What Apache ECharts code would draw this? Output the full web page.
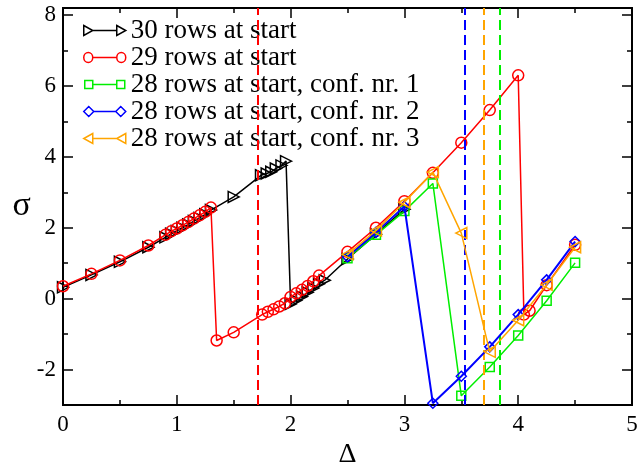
<!doctype html>
<html>
<head>
<meta charset="UTF-8">
<title></title>
<script src="https://cdn.jsdelivr.net/npm/echarts@6/dist/echarts.min.js"></script>
<style>
  html, body { margin: 0; padding: 0; background: #fff; }
  #chart { width: 639px; height: 463px; }
</style>
</head>
<body>
<div id="chart"></div>
<script>
// data
var names = ['30 rows at start', '29 rows at start', '28 rows at start, conf. nr. 1',
             '28 rows at start, conf. nr. 2', '28 rows at start, conf. nr. 3'];
var colors = ['#000000', '#ff0000', '#00ee00', '#0000ff', '#ffa500'];

var blackX = [0, 0.25, 0.5, 0.75, 0.9, 0.95, 1.0, 1.05, 1.1, 1.15, 1.2, 1.25, 1.3, 1.5,
              1.74, 1.79, 1.83, 1.87, 1.92, 1.96, 2.0, 2.05, 2.1, 2.15, 2.2, 2.25, 2.3, 2.5, 2.75, 3.0];
var blackY = [0.32, 0.67, 1.04, 1.45, 1.73, 1.83, 1.91, 2.0, 2.09, 2.19, 2.28, 2.38, 2.5, 2.87,
              3.48, 3.53, 3.58, 3.67, 3.76, 3.88, -0.15, -0.05, 0.06, 0.18, 0.3, 0.42, 0.52, 1.12, 1.82, 2.52];

var redX = [0, 0.25, 0.5, 0.75, 0.9, 0.95, 1.0, 1.05, 1.1, 1.15, 1.2, 1.25, 1.3, 1.35, 1.5,
            1.75, 1.8, 1.85, 1.9, 1.95, 2.0, 2.05, 2.1, 2.15, 2.2, 2.25,
            2.5, 2.75, 3.0, 3.25, 3.5, 3.75, 4.0, 4.05, 4.1, 4.25, 4.5];
var redY = [0.35, 0.7, 1.08, 1.5, 1.8, 1.9, 1.98, 2.07, 2.16, 2.26, 2.35, 2.45, 2.57, -1.18, -0.95,
            -0.45, -0.37, -0.3, -0.22, -0.13, 0.05, 0.15, 0.25, 0.36, 0.49, 0.65,
            1.32, 2.0, 2.75, 3.55, 4.4, 5.32, 6.3, -0.45, -0.34, 0.38, 1.52];

var greenX = [2.5, 2.75, 3.0, 3.25, 3.5, 3.75, 4.0, 4.25, 4.5];
var greenY = [1.14, 1.8, 2.47, 3.25, -2.74, -1.93, -1.04, -0.06, 1.01];

var blueX = [2.5, 2.75, 3.0, 3.25, 3.5, 3.75, 4.0, 4.25, 4.5];
var blueY = [1.18, 1.87, 2.6, -2.95, -2.19, -1.36, -0.45, 0.53, 1.61];

var orangeX = [2.5, 2.75, 3.0, 3.25, 3.5, 3.75, 4.0, 4.25, 4.5];
var orangeY = [1.25, 1.92, 2.72, 3.57, 1.85, -1.5, -0.61, 0.39, 1.45];

// vertical dashed lines: red, blue, orange, green
var dashX = [1.71, 3.53, 3.70, 3.84];
var dashColors = ['#ff0000', '#0000ff', '#ffa500', '#00ee00'];

var yMajor = [-2, 0, 2, 4, 6, 8];
var yMinor = [-3, -1, 1, 3, 5, 7];

function pairs(xs, ys) {
  var out = [];
  for (var i = 0; i < xs.length; i++) out.push([xs[i], ys[i]]);
  return out;
}

var serif = 'Liberation Serif';
var chart = echarts.init(document.getElementById('chart'));

function xAx(pos, labels) {
  return {
    type: 'value', position: pos, min: 0, max: 5, interval: 1,
    axisLine: { onZero: false, lineStyle: { color: '#000', width: 2 } },
    axisTick: { inside: true, length: 10, lineStyle: { color: '#000', width: 1.5 } },
    minorTick: { show: true, splitNumber: 2, length: 5, lineStyle: { color: '#000', width: 1.5 } },
    splitLine: { show: false },
    axisLabel: { show: labels, color: '#000', fontSize: 23, fontFamily: serif, margin: 8 },
    name: labels ? 'Δ' : '', nameLocation: 'middle', nameGap: 35,
    nameTextStyle: { color: '#000', fontSize: 28, fontFamily: serif }
  };
}
function yAx(pos, vals, len, labels) {
  return {
    type: 'value', position: pos, min: -3, max: 8.2, interval: 1,
    axisLine: { onZero: false, lineStyle: { color: '#000', width: 2 } },
    axisTick: { inside: true, length: len, customValues: vals, lineStyle: { color: '#000', width: 1.5 } },
    splitLine: { show: false },
    axisLabel: { show: labels, customValues: vals, color: '#000', fontSize: 23, fontFamily: serif, margin: 7 },
    name: labels ? 'σ' : '', nameLocation: 'middle', nameGap: 30, nameRotate: 0,
    nameTextStyle: { color: '#000', fontSize: 34, fontFamily: serif, padding: [16, 0, 0, 0] }
  };
}

function mk(i, xs, ys, symbol, size, rot, lw, dash) {
  var s = {
    name: names[i], type: 'line', data: pairs(xs, ys),
    symbol: symbol, symbolSize: size, symbolRotate: rot,
    showAllSymbol: true,
    lineStyle: { color: colors[i], width: lw },
    itemStyle: { color: 'rgba(0,0,0,0)', borderColor: colors[i], borderWidth: 1.5 },
    z: 2 + i
  };
  if (dash) {
    s.markLine = {
      symbol: 'none', silent: true, label: { show: false },
      data: dash.map(function (k) {
        return { xAxis: dashX[k], lineStyle: { color: dashColors[k], type: [10, 5], width: 2 } };
      })
    };
  }
  return s;
}

var icons = [
  'path://M0,0L9,5L0,10ZM9,5L33,5M33,0L42,5L33,10Z',
  'path://M0,5A4.5,4.5,0,1,0,9,5A4.5,4.5,0,1,0,0,5ZM9,5L33,5M33,5A4.5,4.5,0,1,0,42,5A4.5,4.5,0,1,0,33,5Z',
  'path://M1,1L9,1L9,9L1,9ZM9,5L33,5M33,1L41,1L41,9L33,9ZM0,0M42,10',
  'path://M0,5L5,0L10,5L5,10ZM10,5L32,5M32,5L37,0L42,5L37,10Z',
  'path://M9,0L0,5L9,10ZM9,5L33,5M42,0L33,5L42,10Z'
];

chart.setOption({
  animation: false,
  backgroundColor: '#fff',
  grid: { left: 63, right: 7, top: 8, bottom: 58, outerBoundsMode: 'none' },
  legend: {
    orient: 'vertical', left: 83, top: 17, itemGap: 0, padding: 0,
    itemWidth: 42, itemHeight: 10, symbolKeepAspect: false,
    textStyle: { color: '#000', fontSize: 27, lineHeight: 26, fontFamily: serif },
    data: names.map(function (n, i) {
      return { name: n, icon: icons[i],
        itemStyle: { color: 'rgba(0,0,0,0)', borderColor: colors[i], borderWidth: 1.5 } };
    })
  },
  xAxis: [xAx('bottom', true), xAx('top', false)],
  yAxis: [yAx('left', yMajor, 10, true), yAx('left', yMinor, 5, false),
          yAx('right', yMajor, 10, false), yAx('right', yMinor, 5, false)],
  series: [
    mk(0, blackX, blackY, 'triangle', 11, -90, 1.5, null),
    mk(1, redX, redY, 'circle', 11, 0, 1.5, [0]),
    mk(2, greenX, greenY, 'rect', 9, 0, 1.5, [3]),
    mk(3, blueX, blueY, 'diamond', 10, 0, 2, [1]),
    mk(4, orangeX, orangeY, 'triangle', 11, 90, 1.5, [2])
  ]
});
</script>
</body>
</html>
